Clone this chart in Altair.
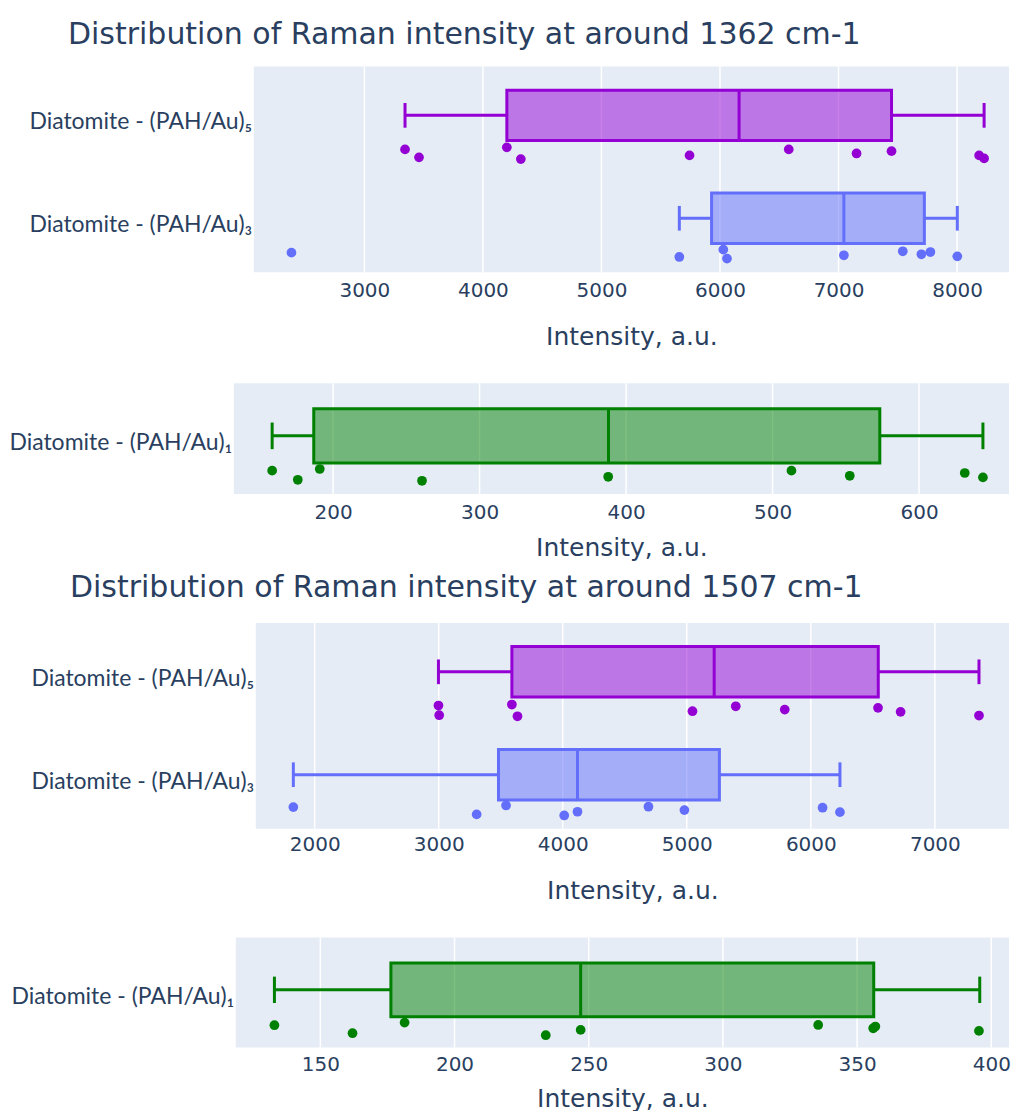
import json
import altair as alt
import pandas as pd

# ---------------- data ----------------
LABEL_AU5 = "Diatomite - (PAH/Au)₅"
LABEL_AU3 = "Diatomite - (PAH/Au)₃"
LABEL_AU1 = "Diatomite - (PAH/Au)₁"
LABELS = [LABEL_AU5, LABEL_AU3, LABEL_AU1]
COLORS = ["#9400D3", "#636EFA", "#008000"]

TITLE_1362 = "Distribution of Raman intensity at around 1362 cm-1"
TITLE_1507 = "Distribution of Raman intensity at around 1507 cm-1"
X_TITLE = "Intensity, a.u."

# 1362 cm-1, PAH/Au 5 and 3
v1362_au5 = [3343, 3461, 4202, 4320, 5743, 6580, 7152, 7447, 8186, 8228]
j1362_au5 = [-0.306, -0.383, -0.286, -0.400, -0.364, -0.306, -0.345, -0.323, -0.364, -0.393]
s1362_au5 = [3343, 4202, 6161, 7447, 8228]          # lower whisker, q1, median, q3, upper whisker
v1362_au3 = [2385, 5657, 6028, 6059, 7045, 7542, 7699, 7775, 8002]
j1362_au3 = [-0.309, -0.351, -0.280, -0.367, -0.335, -0.296, -0.325, -0.303, -0.345]
s1362_au3 = [5657, 5929, 7045, 7724, 8002]
ticks1362_a = [3000, 4000, 5000, 6000, 7000, 8000]
range1362_a = [2067, 8438]

# 1362 cm-1, PAH/Au 1
v1362_au1 = [158.4, 175.9, 190.9, 260.7, 387.8, 512.9, 552.7, 631.2, 643.6]
j1362_au1 = [-0.289, -0.371, -0.274, -0.380, -0.344, -0.289, -0.335, -0.310, -0.350]
s1362_au1 = [158.4, 186.8, 388.0, 573.2, 643.6]
ticks1362_b = [200, 300, 400, 500, 600]
range1362_b = [132.2, 661.4]

# 1507 cm-1, PAH/Au 5 and 3
v1507_au5 = [2998, 3004, 3590, 3635, 5046, 5395, 5790, 6542, 6724, 7356]
j1507_au5 = [-0.303, -0.397, -0.293, -0.407, -0.358, -0.310, -0.342, -0.325, -0.364, -0.400]
s1507_au5 = [2998, 3590, 5221, 6544, 7356]
v1507_au3 = [1828, 3306, 3543, 4012, 4119, 4691, 4981, 6095, 6235]
j1507_au3 = [-0.290, -0.361, -0.274, -0.371, -0.335, -0.286, -0.319, -0.296, -0.339]
s1507_au3 = [1828, 3482, 4119, 5263, 6235]
ticks1507_a = [2000, 3000, 4000, 5000, 6000, 7000]
range1507_a = [1525, 7598]

# 1507 cm-1, PAH/Au 1
v1507_au1 = [132.9, 162.0, 181.4, 234.0, 247.0, 335.5, 356.0, 356.8, 395.4]
j1507_au1 = [-0.297, -0.370, -0.273, -0.388, -0.340, -0.295, -0.325, -0.309, -0.349]
s1507_au1 = [132.9, 176.3, 247.0, 356.2, 395.7]
ticks1507_b = [150, 200, 250, 300, 350, 400]
range1507_b = [118.5, 406.6]

# ---------------- styling constants ----------------
TXT = "#2a3f5f"
BG = "#E5ECF6"
BOX_TOP, BOX_BOT = 0.27, -0.22
WHISK = 0.025
CAP = 0.12
LW = 3
W = 776  # common panel group width


def panel(groups, domain, ticks, plot_h, group_h, gutter, title=None,
          title_offset=16, title_dx=-166, label_pad=8, title_y=50):
    n = len(groups)
    boxes, whiskers, caps, pts = [], [], [], []
    for idx, (label, vals, jit, st) in enumerate(groups):
        pos = n - 1 - idx
        lo, q1, med, q3, hi = st
        boxes.append(dict(g=label, q1=q1, q3=q3, med=med,
                          top=pos + BOX_TOP, bot=pos + BOX_BOT))
        whiskers.append(dict(g=label, a=lo, b=q1, y=pos + WHISK))
        whiskers.append(dict(g=label, a=q3, b=hi, y=pos + WHISK))
        for c in (lo, hi):
            caps.append(dict(g=label, v=c, t=pos + WHISK + CAP, b=pos + WHISK - CAP))
        for v, j in zip(vals, jit):
            pts.append(dict(g=label, v=v, y=pos + j))
    boxes, whiskers, caps, pts = map(pd.DataFrame, (boxes, whiskers, caps, pts))
    ylo, yhi = -0.5, n - 0.5
    bg = pd.DataFrame([dict(lo=domain[0], hi=domain[1], ylo=ylo, yhi=yhi)])
    grid = pd.DataFrame([dict(t=t, ylo=ylo, yhi=yhi) for t in ticks])

    labels = [g[0] for g in groups]
    expr = " : ".join(
        f"datum.value == {n - 1 - i} ? {json.dumps(l)}" for i, l in enumerate(labels)
    ) + " : ''"

    xs = alt.Scale(domain=domain, range=[gutter, W], nice=False, zero=False)
    ys = alt.Scale(domain=[ylo, yhi], range=[plot_h, 0], nice=False, zero=False)
    cs = alt.Scale(domain=LABELS, range=COLORS)
    xa = alt.Axis(values=ticks, title=X_TITLE, grid=False, ticks=False, domain=False,
                  format="d", offset=-(group_h - plot_h),
                  labelFont="DejaVu Sans", labelFontSize=20, labelPadding=label_pad,
                  labelOverlap=False, labelFlush=False,
                  titleFont="DejaVu Sans", titleFontSize=25, titleFontWeight="normal",
                  titleY=title_y, titleBaseline="top")
    ya = alt.Axis(values=list(range(n)), labelExpr=expr, grid=False, ticks=False,
                  domain=False, offset=-gutter, labelFont="Lato", labelFontSize=23,
                  labelPadding=2, labelOffset=4, labelLimit=500, title=None)
    col = alt.Color("g:N", scale=cs, legend=None)

    back = alt.Chart(bg).mark_rect(fill=BG, strokeWidth=0).encode(
        x=alt.X("lo:Q", scale=xs, axis=xa), x2="hi:Q",
        y=alt.Y("ylo:Q", scale=ys, axis=ya), y2="yhi:Q")
    gridl = alt.Chart(grid).mark_rule(color="white", strokeWidth=1.5).encode(
        x=alt.X("t:Q", scale=xs, axis=xa),
        y=alt.Y("ylo:Q", scale=ys, axis=ya), y2="yhi:Q")
    whisk = alt.Chart(whiskers).mark_rule(strokeWidth=LW).encode(
        x=alt.X("a:Q", scale=xs, axis=xa), x2="b:Q",
        y=alt.Y("y:Q", scale=ys, axis=ya), color=col)
    cap = alt.Chart(caps).mark_rule(strokeWidth=LW).encode(
        x=alt.X("v:Q", scale=xs, axis=xa),
        y=alt.Y("t:Q", scale=ys, axis=ya), y2="b:Q", color=col)
    box = alt.Chart(boxes).mark_rect(fillOpacity=0.5, strokeWidth=LW).encode(
        x=alt.X("q1:Q", scale=xs, axis=xa), x2="q3:Q",
        y=alt.Y("top:Q", scale=ys, axis=ya), y2="bot:Q",
        fill=alt.Fill("g:N", scale=cs, legend=None),
        stroke=alt.Stroke("g:N", scale=cs, legend=None))
    med = alt.Chart(boxes).mark_rule(strokeWidth=LW).encode(
        x=alt.X("med:Q", scale=xs, axis=xa),
        y=alt.Y("top:Q", scale=ys, axis=ya), y2="bot:Q", color=col)
    dots = alt.Chart(pts).mark_circle(size=95, opacity=1).encode(
        x=alt.X("v:Q", scale=xs, axis=xa),
        y=alt.Y("y:Q", scale=ys, axis=ya), color=col)

    props = dict(width=W, height=group_h)
    if title:
        props["title"] = alt.TitleParams(
            title, anchor="start", frame="group", dx=title_dx, font="DejaVu Sans",
            fontSize=30, fontWeight="normal", color=TXT, offset=title_offset)
    return alt.layer(back, gridl, whisk, cap, box, med, dots).properties(**props)


p1 = panel([(LABEL_AU5, v1362_au5, j1362_au5, s1362_au5),
            (LABEL_AU3, v1362_au3, j1362_au3, s1362_au3)],
           range1362_a, ticks1362_a, 206, 317, 20, title=TITLE_1362,
           title_offset=16, title_dx=-166, label_pad=8, title_y=52)
p2 = panel([(LABEL_AU1, v1362_au1, j1362_au1, s1362_au1)],
           range1362_b, ticks1362_b, 111, 240, 0, label_pad=8, title_y=41)
p3 = panel([(LABEL_AU5, v1507_au5, j1507_au5, s1507_au5),
            (LABEL_AU3, v1507_au3, j1507_au3, s1507_au3)],
           range1507_a, ticks1507_a, 206, 315, 22, title=TITLE_1507,
           title_offset=19, title_dx=-164, label_pad=6, title_y=50)
p4 = panel([(LABEL_AU1, v1507_au1, j1507_au1, s1507_au1)],
           range1507_b, ticks1507_b, 110, 110, 2, label_pad=7, title_y=39)

chart = alt.concat(p1, p2, p3, p4, columns=1, spacing=0, bounds="flush",
                   align="none").properties(
    padding={"left": 0, "top": 11, "right": 0, "bottom": 0}
).configure_view(strokeWidth=0).configure_axis(
    labelColor=TXT, titleColor=TXT
)

chart.save("out.html", embed_options={"renderer": "svg", "actions": False})
